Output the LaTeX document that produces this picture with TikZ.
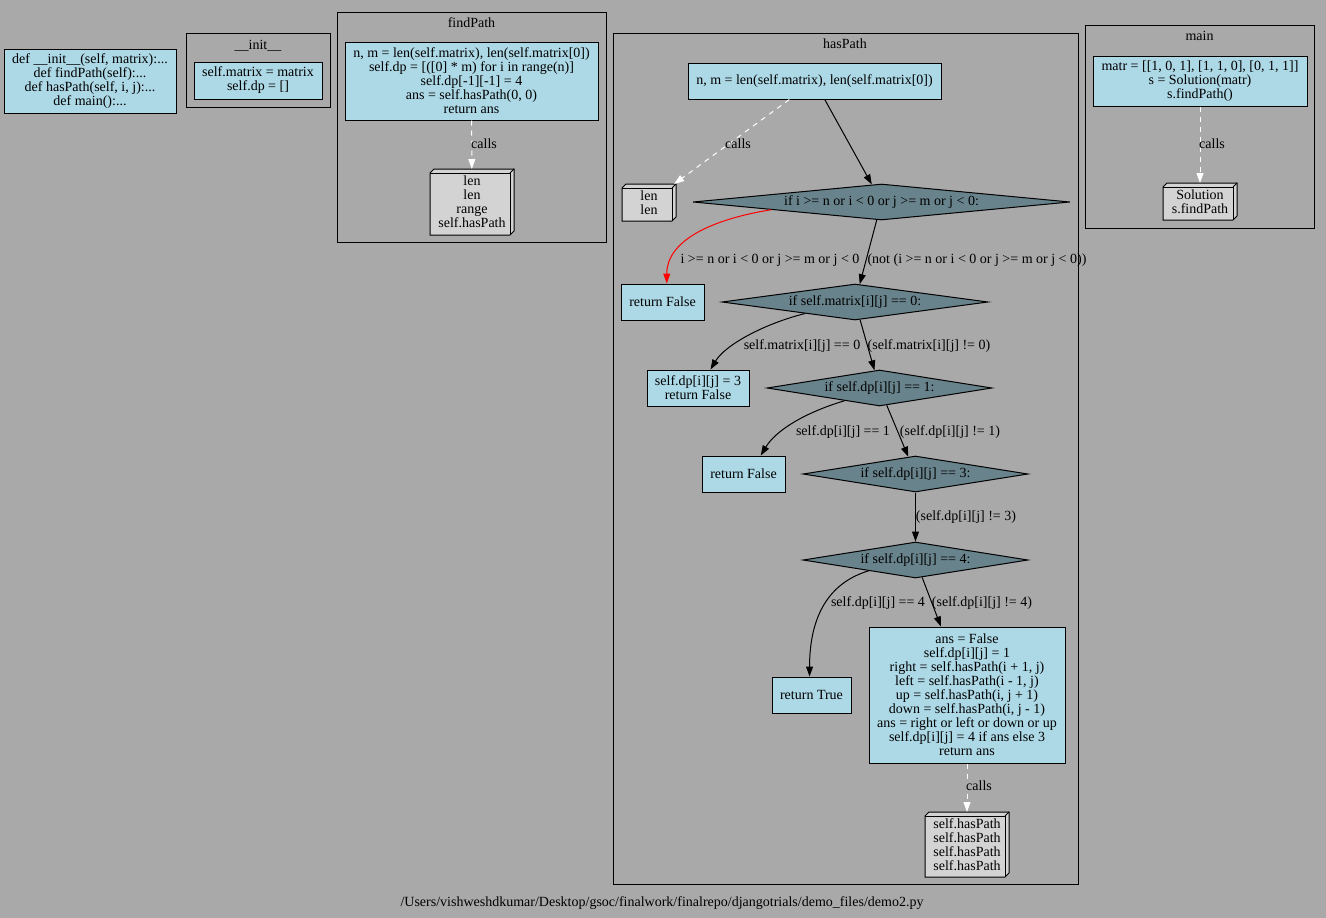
\documentclass[tikz,border=0pt]{standalone}
\usepackage{fontspec}
\setmainfont{Liberation Serif}
\usetikzlibrary{shapes.geometric,arrows.meta,calc}
\pgfdeclarelayer{bglayer}
\pgfdeclarelayer{shapelayer}
\pgfsetlayers{bglayer,shapelayer,main}

\definecolor{pagebg}{HTML}{A9A9A9}
\definecolor{boxblue}{HTML}{ADD8E6}
\definecolor{callgray}{HTML}{D3D3D3}
\definecolor{decisionfill}{HTML}{68838B}

\tikzset{
  codebox/.style={rectangle, draw=black, fill=boxblue, line width=1pt, inner sep=0pt, align=center},
  decision/.style={diamond, draw=black, fill=decisionfill, line width=1pt, inner sep=0pt, aspect=1},
  callbox/.style={rectangle, inner sep=0pt, outer sep=0pt, align=center},
  callface/.style={draw=black, fill=callgray, line width=1pt, line join=miter},
  cluster/.style={rectangle, draw=black, line width=1pt, inner sep=0pt},
  lbl/.style={inner sep=0pt, text height=10pt, text depth=3pt},
  flow/.style={draw=black, line width=1pt, -{Triangle[length=10pt,width=7pt]}},
  calledge/.style={draw=white, line width=1pt, dash pattern=on 5pt off 5pt, -{Triangle[length=10pt,width=7pt]}},
}

% text of a decision node takes no width, so the diamond keeps its set size
\newcommand{\dtext}[1]{\makebox[0pt]{#1}}

% three-dimensional box drawn behind a named call node
\newcommand{\boxthreed}[1]{%
  \begin{pgfonlayer}{shapelayer}
    \draw[callface] ($(#1.north west)+(0,4)$) -- ($(#1.north west)+(4,0)$) -- (#1.north east)
      -- ($(#1.south east)+(0,-4)$) -- ($(#1.south east)+(-4,0)$) -- (#1.south west) -- cycle;
    \draw[callface, fill=none] ($(#1.north west)+(0,4)$) -- ($(#1.north east)+(-4,4)$)
      -- ($(#1.south east)+(-4,0)$);
    \draw[callface, fill=none] ($(#1.north east)+(-4,4)$) -- (#1.north east);
  \end{pgfonlayer}}

\begin{document}
\begin{tikzpicture}[x=1pt, y=-1pt, font=\fontsize{14}{14}\selectfont]
\begin{pgfonlayer}{bglayer}
  \fill[pagebg] (0,0) rectangle (1326,918);
\end{pgfonlayer}
\useasboundingbox (0,0) rectangle (1326,918);

% module overview
\node[codebox, minimum width=172, minimum height=64] (code) at (90,81)
  {def \_\_init\_\_(self, matrix):...\\def findPath(self):...\\def hasPath(self, i, j):...\\def main():...};

% __init__
\node[cluster, minimum width=144, minimum height=74] (clInit) at (258,70) {};
\node[lbl] (tInit) at (258,46) {\_\_init\_\_};
\node[codebox, minimum width=128, minimum height=37] (initbody) at (258,80.5)
  {self.matrix = matrix\\self.dp = []};

% findPath
\node[cluster, minimum width=269, minimum height=230] (clFind) at (471.5,127) {};
\node[lbl] (tFind) at (471.5,24) {findPath};
\node[codebox, minimum width=253, minimum height=78] (fpbody) at (471.5,81)
  {n, m = len(self.matrix), len(self.matrix[0])\\self.dp = [([0] * m) for i in range(n)]\\self.dp[-1][-1] = 4\\ans = self.hasPath(0, 0)\\return ans};
\node[callbox, minimum width=84, minimum height=66] (fpcalls) at (472,202)
  {len\\len\\range\\self.hasPath};
\boxthreed{fpcalls}
\draw[calledge] (fpbody) -- (fpcalls);
\node[lbl] (lCallsA) at (484,145) {calls};

% hasPath
\node[cluster, minimum width=465, minimum height=851] (clHas) at (845.5,458.5) {};
\node[lbl] (tHas) at (845,45) {hasPath};
\node[codebox, minimum width=253, minimum height=36] (hp0) at (814.5,81)
  {n, m = len(self.matrix), len(self.matrix[0])};
\node[callbox, minimum width=54, minimum height=37] (hplen) at (649,202.5) {len\\len};
\boxthreed{hplen}
\node[decision, minimum width=377, minimum height=36] (d1) at (881.5,202)
  {\dtext{if i >= n or i < 0 or j >= m or j < 0:}};
\node[codebox, minimum width=83, minimum height=36] (rf1) at (662.5,302) {return False};
\node[decision, minimum width=266, minimum height=36] (d2) at (855,302)
  {\dtext{if self.matrix[i][j] == 0:}};
\node[codebox, minimum width=102, minimum height=36] (dp3) at (698,388)
  {self.dp[i][j] = 3\\return False};
\node[decision, minimum width=225, minimum height=36] (d3) at (879.5,388)
  {\dtext{if self.dp[i][j] == 1:}};
\node[codebox, minimum width=83, minimum height=36] (rf2) at (743.5,474) {return False};
\node[decision, minimum width=225, minimum height=36] (d4) at (915.5,474)
  {\dtext{if self.dp[i][j] == 3:}};
\node[decision, minimum width=225, minimum height=36] (d5) at (915.5,560)
  {\dtext{if self.dp[i][j] == 4:}};
\node[codebox, minimum width=79, minimum height=36] (rt) at (811.5,695) {return True};
\node[codebox, minimum width=196, minimum height=136] (hpbody) at (967,695)
  {ans = False\\self.dp[i][j] = 1\\right = self.hasPath(i + 1, j)\\left = self.hasPath(i - 1, j)\\up = self.hasPath(i, j + 1)\\down = self.hasPath(i, j - 1)\\ans = right or left or down or up\\self.dp[i][j] = 4 if ans else 3\\return ans};
\node[callbox, minimum width=84, minimum height=65] (hpcalls) at (967,844.5)
  {self.hasPath\\self.hasPath\\self.hasPath\\self.hasPath};
\boxthreed{hpcalls}

\draw[calledge] (hp0) -- (hplen);
\node[lbl] (lCallsB) at (738,145) {calls};
\draw[flow] (hp0) -- (d1);
\draw[flow, draw=red] (d1.184) .. controls +(-62,10) and +(0,-42) .. (rf1.77);
\node[lbl] (lTrue1) at (770,260) {i >= n or i < 0 or j >= m or j < 0};
\draw[flow] (d1) -- (d2);
\node[lbl] (lFalse1) at (977,260) {(not (i >= n or i < 0 or j >= m or j < 0))};
\draw[flow] (d2.193) .. controls +(-40,10) and +(15,-25) .. (dp3.56);
\node[lbl] (lTrue2) at (802,346) {self.matrix[i][j] == 0};
\draw[flow] (d2) -- (d3);
\node[lbl] (lFalse2) at (929,346) {(self.matrix[i][j] != 0)};
\draw[flow] (d3.200) .. controls +(-40,12) and +(15,-25) .. (rf2.47);
\node[lbl] (lTrue3) at (843,432) {self.dp[i][j] == 1};
\draw[flow] (d3) -- (d4);
\node[lbl] (lFalse3) at (950,432) {(self.dp[i][j] != 1)};
\draw[flow] (d4) -- (d5);
\node[lbl] (lFalse4) at (966,517) {(self.dp[i][j] != 3)};
\draw[flow] (d5.193) .. controls +(-40,12) and +(0,-60) .. (rt.96);
\node[lbl] (lTrue5) at (878,603) {self.dp[i][j] == 4};
\draw[flow] (d5) -- (hpbody);
\node[lbl] (lFalse5) at (982,603) {(self.dp[i][j] != 4)};
\draw[calledge] (hpbody) -- (hpcalls);
\node[lbl] (lCallsC) at (979,787) {calls};

% main
\node[cluster, minimum width=229, minimum height=203] (clMain) at (1199.5,126.5) {};
\node[lbl] (tMain) at (1199.5,37) {main};
\node[codebox, minimum width=214, minimum height=50] (mbody) at (1200,81)
  {matr = [[1, 0, 1], [1, 1, 0], [0, 1, 1]]\\s = Solution(matr)\\s.findPath()};
\node[callbox, minimum width=74, minimum height=37] (mcalls) at (1200,201.5)
  {Solution\\s.findPath};
\boxthreed{mcalls}
\draw[calledge] (mbody) -- (mcalls);
\node[lbl] (lCallsD) at (1212,145) {calls};

% file name
\node[lbl] (caption) at (662,903)
  {/Users/vishweshdkumar/Desktop/gsoc/finalwork/finalrepo/djangotrials/demo\_files/demo2.py};
\end{tikzpicture}
\end{document}
